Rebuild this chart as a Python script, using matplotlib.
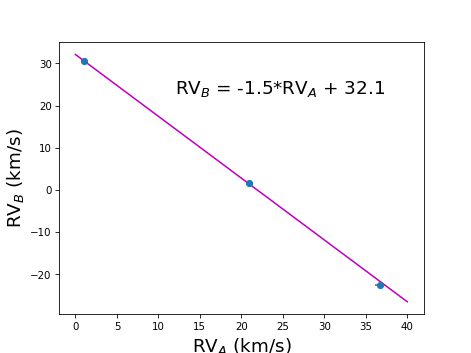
import matplotlib
matplotlib.use("Agg")
import matplotlib.pyplot as plt
import numpy as np

rv_a = [1.0, 20.96, 36.75]
rv_b = [30.45, 1.55, -22.5]
rv_a_err = [0.1, 0.1, 0.6]
rv_b_err = [0.2, 0.2, 0.2]
slope = -1.465
intercept = 32.1
fit_x = [0, 40]

fig = plt.figure(figsize=(6.4, 4.8), dpi=471/6.4)
ax = fig.add_subplot(111)
ax.errorbar(rv_a, rv_b, xerr=rv_a_err, yerr=rv_b_err, fmt='o')
fx = np.array(fit_x)
ax.plot(fx, slope * fx + intercept, color='m')
ax.text(12, 22.8, r"RV$_B$ = -1.5*RV$_A$ + 32.1", fontsize=18)
ax.set_xlabel(r"RV$_A$ (km/s)", fontsize=18)
ax.set_ylabel(r"RV$_B$ (km/s)", fontsize=18)
fig.savefig("out.png")
